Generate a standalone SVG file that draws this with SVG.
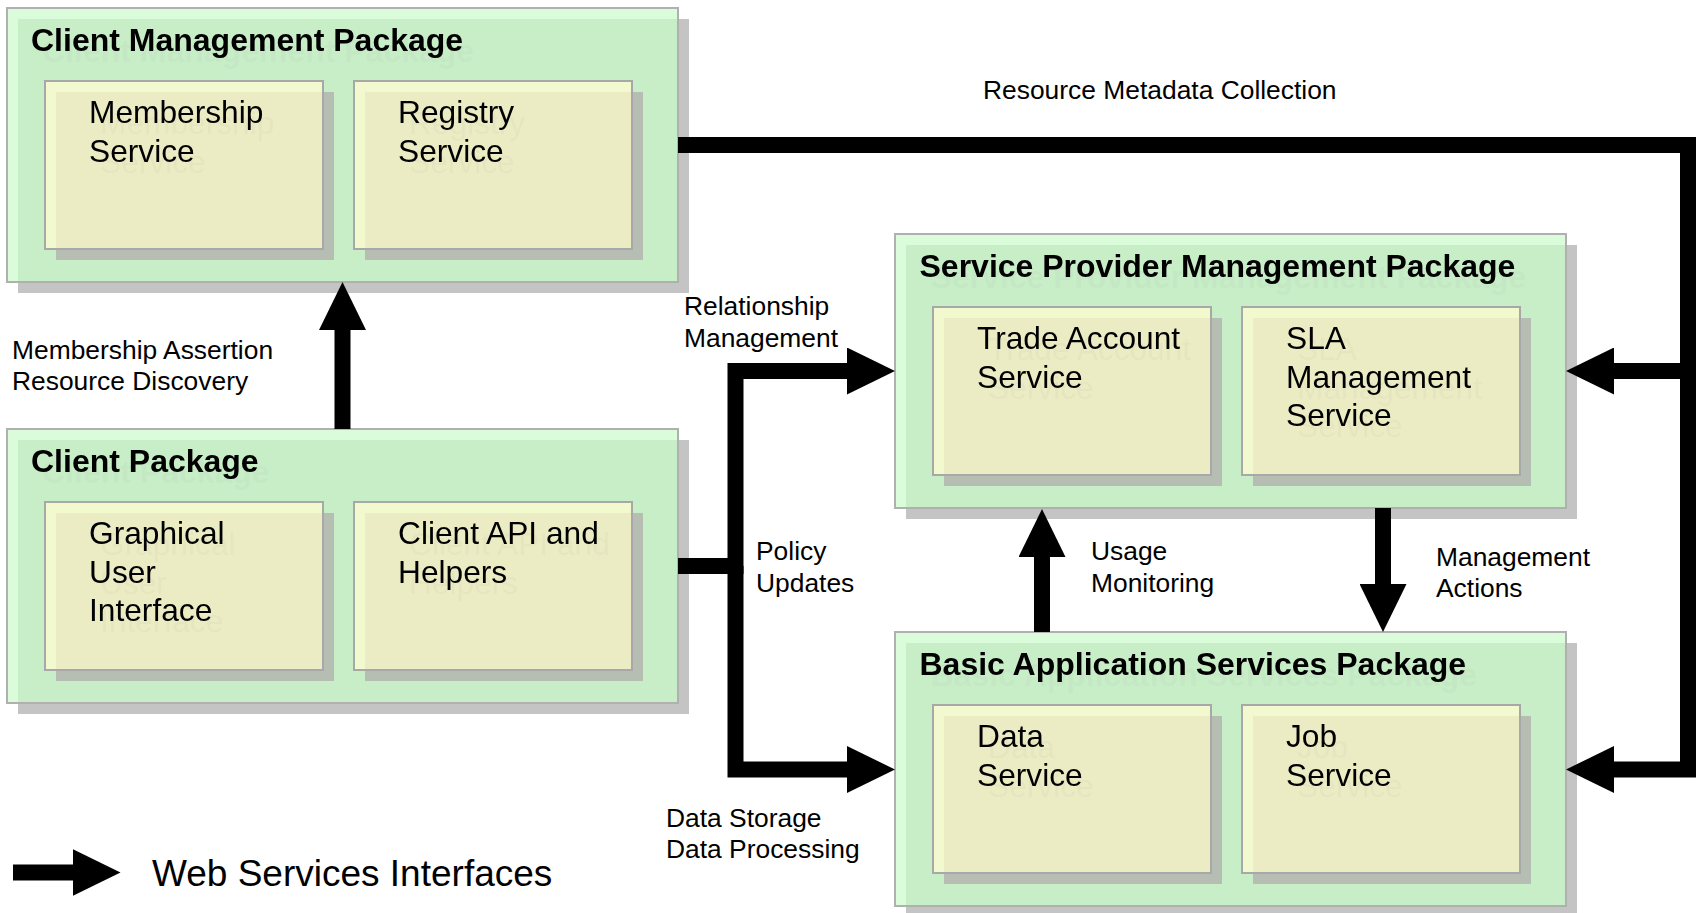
<svg xmlns="http://www.w3.org/2000/svg" width="1698" height="913" viewBox="0 0 1698 913">
<style>
text{font-family:"Liberation Sans",Arial,Helvetica,sans-serif;fill:#000}
.title{font-size:32px;font-weight:bold}
.svc{font-size:31.7px}
.lbl{font-size:26.4px}
.leg{font-size:37px}
.pshadow{fill:#c4c4c4}
.plight{fill:#dafcda}
.pmain{fill:#c8eec8}
.pborder{fill:none;stroke:#b0b0b0;stroke-width:2}
.sshadow{fill:#b6beb4}
.slight{fill:#f3f9cf}
.smain{fill:#ebecc4}
.sborder{fill:none;stroke:#a8a8a8;stroke-width:2}
.conn{fill:none;stroke:#000;stroke-width:16;stroke-linejoin:miter;stroke-linecap:butt}
</style>
<defs>
<marker id="head" markerUnits="userSpaceOnUse" viewBox="0 0 48 47" refX="1" refY="23.5" markerWidth="48" markerHeight="47" orient="auto">
<path d="M0,0 L48,23.5 L0,47 Z" fill="#000"/>
</marker>
<filter id="ts" x="-5%" y="-10%" width="120%" height="160%">
<feOffset in="SourceAlpha" dx="11" dy="11" result="o"/>
<feColorMatrix in="o" type="matrix" values="0 0 0 0 0  0 0 0 0 0  0 0 0 0 0  0 0 0 0.025 0" result="s"/>
<feMerge><feMergeNode in="s"/><feMergeNode in="SourceGraphic"/></feMerge>
</filter>
</defs>

<!-- Client Management Package -->
<g id="client-management-package">
<rect class="pshadow" x="18" y="19" width="671" height="274"/>
<rect class="plight" x="7" y="8" width="671" height="274"/>
<rect class="pmain" x="18" y="19" width="660" height="263"/>
<rect class="pborder" x="7" y="8" width="671" height="274"/>
<text class="title" x="31" y="50.5" filter="url(#ts)">Client Management Package</text>
<g id="membership-service">
<rect class="sshadow" x="56" y="92" width="278" height="168"/>
<rect class="slight" x="45" y="81" width="278" height="168"/>
<rect class="smain" x="56" y="92" width="267" height="157"/>
<rect class="sborder" x="45" y="81" width="278" height="168"/>
<text class="svc" filter="url(#ts)"><tspan x="89" y="123">Membership</tspan><tspan x="89" y="161.5">Service</tspan></text>
</g>
<g id="registry-service">
<rect class="sshadow" x="365" y="92" width="278" height="168"/>
<rect class="slight" x="354" y="81" width="278" height="168"/>
<rect class="smain" x="365" y="92" width="267" height="157"/>
<rect class="sborder" x="354" y="81" width="278" height="168"/>
<text class="svc" filter="url(#ts)"><tspan x="398" y="123">Registry</tspan><tspan x="398" y="161.5">Service</tspan></text>
</g>
</g>

<!-- Client Package -->
<g id="client-package">
<rect class="pshadow" x="18" y="440" width="671" height="274"/>
<rect class="plight" x="7" y="429" width="671" height="274"/>
<rect class="pmain" x="18" y="440" width="660" height="263"/>
<rect class="pborder" x="7" y="429" width="671" height="274"/>
<text class="title" x="31" y="471.5" filter="url(#ts)">Client Package</text>
<g id="graphical-user-interface">
<rect class="sshadow" x="56" y="513" width="278" height="168"/>
<rect class="slight" x="45" y="502" width="278" height="168"/>
<rect class="smain" x="56" y="513" width="267" height="157"/>
<rect class="sborder" x="45" y="502" width="278" height="168"/>
<text class="svc" filter="url(#ts)"><tspan x="89" y="544">Graphical</tspan><tspan x="89" y="582.5">User</tspan><tspan x="89" y="621">Interface</tspan></text>
</g>
<g id="client-api-helpers">
<rect class="sshadow" x="365" y="513" width="278" height="168"/>
<rect class="slight" x="354" y="502" width="278" height="168"/>
<rect class="smain" x="365" y="513" width="267" height="157"/>
<rect class="sborder" x="354" y="502" width="278" height="168"/>
<text class="svc" filter="url(#ts)"><tspan x="398" y="544">Client API and</tspan><tspan x="398" y="582.5">Helpers</tspan></text>
</g>
</g>

<!-- Service Provider Management Package -->
<g id="service-provider-management-package">
<rect class="pshadow" x="906" y="245" width="671" height="274"/>
<rect class="plight" x="895" y="234" width="671" height="274"/>
<rect class="pmain" x="906" y="245" width="660" height="263"/>
<rect class="pborder" x="895" y="234" width="671" height="274"/>
<text class="title" x="919.5" y="276.5" filter="url(#ts)">Service Provider Management Package</text>
<g id="trade-account-service">
<rect class="sshadow" x="944" y="318" width="278" height="168"/>
<rect class="slight" x="933" y="307" width="278" height="168"/>
<rect class="smain" x="944" y="318" width="267" height="157"/>
<rect class="sborder" x="933" y="307" width="278" height="168"/>
<text class="svc" filter="url(#ts)"><tspan x="977" y="349">Trade Account</tspan><tspan x="977" y="387.5">Service</tspan></text>
</g>
<g id="sla-management-service">
<rect class="sshadow" x="1253" y="318" width="278" height="168"/>
<rect class="slight" x="1242" y="307" width="278" height="168"/>
<rect class="smain" x="1253" y="318" width="267" height="157"/>
<rect class="sborder" x="1242" y="307" width="278" height="168"/>
<text class="svc" filter="url(#ts)"><tspan x="1286" y="349">SLA</tspan><tspan x="1286" y="387.5">Management</tspan><tspan x="1286" y="426">Service</tspan></text>
</g>
</g>

<!-- Basic Application Services Package -->
<g id="basic-application-services-package">
<rect class="pshadow" x="906" y="643" width="671" height="274"/>
<rect class="plight" x="895" y="632" width="671" height="274"/>
<rect class="pmain" x="906" y="643" width="660" height="263"/>
<rect class="pborder" x="895" y="632" width="671" height="274"/>
<text class="title" x="919.5" y="674.5" filter="url(#ts)">Basic Application Services Package</text>
<g id="data-service">
<rect class="sshadow" x="944" y="716" width="278" height="168"/>
<rect class="slight" x="933" y="705" width="278" height="168"/>
<rect class="smain" x="944" y="716" width="267" height="157"/>
<rect class="sborder" x="933" y="705" width="278" height="168"/>
<text class="svc" filter="url(#ts)"><tspan x="977" y="747">Data</tspan><tspan x="977" y="785.5">Service</tspan></text>
</g>
<g id="job-service">
<rect class="sshadow" x="1253" y="716" width="278" height="168"/>
<rect class="slight" x="1242" y="705" width="278" height="168"/>
<rect class="smain" x="1253" y="716" width="267" height="157"/>
<rect class="sborder" x="1242" y="705" width="278" height="168"/>
<text class="svc" filter="url(#ts)"><tspan x="1286" y="747">Job</tspan><tspan x="1286" y="785.5">Service</tspan></text>
</g>
</g>

<!-- Connectors -->
<g id="connectors">
<path class="conn" d="M342.5 429 V329" marker-end="url(#head)"/>
<path class="conn" d="M678 566 H735.5 V371 H848" marker-end="url(#head)"/>
<path class="conn" d="M735.5 566 V769.5 H848" marker-end="url(#head)"/>
<path class="conn" d="M678 145 H1688 V769.5 H1613" marker-end="url(#head)"/>
<path class="conn" d="M1688 371 H1613" marker-end="url(#head)"/>
<path class="conn" d="M1042 632 V556" marker-end="url(#head)"/>
<path class="conn" d="M1383 508 V585" marker-end="url(#head)"/>
</g>

<!-- Connector labels -->
<g id="labels">
<text class="lbl" x="983" y="99">Resource Metadata Collection</text>
<text class="lbl"><tspan x="12" y="359">Membership Assertion</tspan><tspan x="12" y="390">Resource Discovery</tspan></text>
<text class="lbl"><tspan x="684" y="315">Relationship</tspan><tspan x="684" y="346.5">Management</tspan></text>
<text class="lbl"><tspan x="756" y="560">Policy</tspan><tspan x="756" y="592">Updates</tspan></text>
<text class="lbl"><tspan x="666" y="827">Data Storage</tspan><tspan x="666" y="858">Data Processing</tspan></text>
<text class="lbl"><tspan x="1091" y="560">Usage</tspan><tspan x="1091" y="592">Monitoring</tspan></text>
<text class="lbl"><tspan x="1436" y="566">Management</tspan><tspan x="1436" y="597">Actions</tspan></text>
</g>

<!-- Legend -->
<g id="legend">
<path class="conn" d="M13 872.5 H73.5" marker-end="url(#head)"/>
<text class="leg" x="152" y="886">Web Services Interfaces</text>
</g>
</svg>
